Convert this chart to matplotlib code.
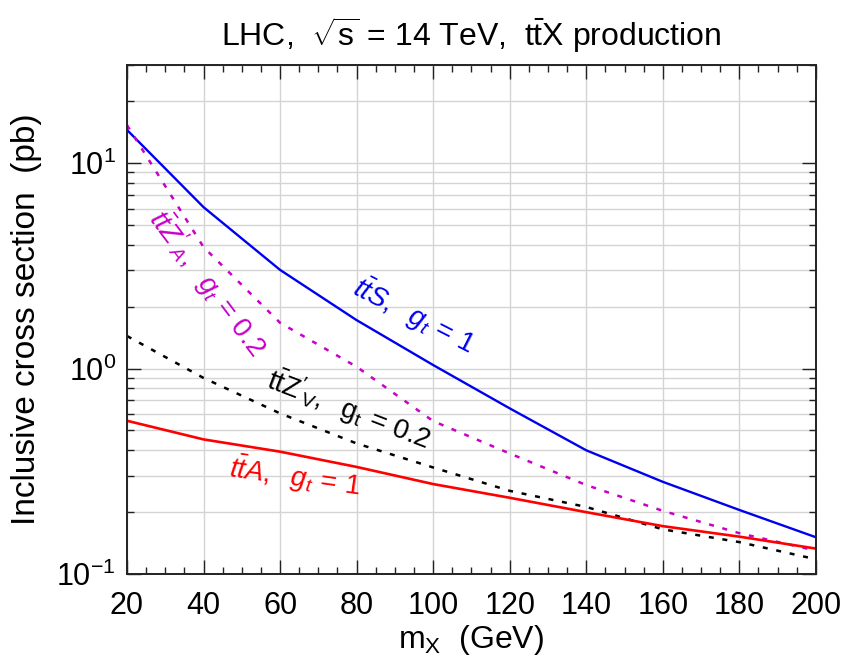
import numpy as np
import matplotlib
matplotlib.use("Agg")
import matplotlib.pyplot as plt
from matplotlib.ticker import LogLocator, MultipleLocator, NullFormatter

plt.rcParams['font.family'] = ['Liberation Sans', 'DejaVu Sans']
plt.rcParams['mathtext.fontset'] = 'custom'
plt.rcParams['mathtext.rm'] = 'Liberation Sans'
plt.rcParams['mathtext.it'] = 'Liberation Sans:italic'
plt.rcParams['mathtext.bf'] = 'Liberation Sans:bold'

# masses (GeV)
m_x = [20, 40, 60, 80, 100, 120, 140, 160, 180, 200]
# cross sections (pb)
xs_ttS = [14.5, 6.1, 3.02, 1.72, 1.04, 0.64, 0.40, 0.281, 0.205, 0.151]
xs_ttZA = [15.3, 3.9, 1.67, 1.02, 0.555, 0.386, 0.271, 0.203, 0.158, 0.130]
xs_ttZV = [1.44, 0.90, 0.605, 0.432, 0.33, 0.254, 0.212, 0.165, 0.143, 0.118]
xs_ttA = [0.557, 0.452, 0.394, 0.332, 0.274, 0.235, 0.200, 0.171, 0.152, 0.133]

fig = plt.figure(figsize=(8.42, 6.62), dpi=100)
ax = fig.add_axes([0.1508, 0.1329, 0.8182, 0.7689])

ax.plot(m_x, xs_ttS, color='#0000f0', lw=1.7)
ax.plot(m_x, xs_ttZA, color='#c800c8', lw=1.8, dashes=(2, 3.5))
ax.plot(m_x, xs_ttZV, color='black', lw=1.8, dashes=(2, 3.5))
ax.plot(m_x, xs_ttA, color='#ff0000', lw=1.9)

ax.set_yscale('log')
ax.set_xlim(20, 200)
ax.set_ylim(0.1, 30)

ax.xaxis.set_major_locator(MultipleLocator(20))
ax.xaxis.set_minor_locator(MultipleLocator(5))
ax.yaxis.set_major_locator(LogLocator(base=10))
ax.yaxis.set_minor_locator(LogLocator(base=10, subs=np.arange(2, 10)))
ax.yaxis.set_minor_formatter(NullFormatter())

ax.grid(True, which='major', axis='x', color='#d4d4d4', lw=1)
ax.grid(True, which='both', axis='y', color='#d4d4d4', lw=1)
ax.set_axisbelow(True)

ax.tick_params(which='both', direction='in', top=True, right=True,
               labelsize=22, color='#222222')
ax.tick_params(axis='x', pad=12)
ax.tick_params(axis='y', pad=8)
ax.tick_params(which='major', length=10, width=1)
ax.tick_params(which='minor', length=5, width=1)
for s in ax.spines.values():
    s.set_linewidth(1.4)
    s.set_color('#222222')

ax.set_xlabel(r'm$_\mathrm{X}$  (GeV)', fontsize=23, labelpad=2)
ax.set_ylabel('Inclusive cross section  (pb)', fontsize=24, labelpad=10)
ax.set_title(r'LHC,  $\sqrt{\mathrm{s}}$ = 14 TeV,  $\mathrm{t\bar{t}}$X production',
             fontsize=23, pad=14)

# curve labels
ax.text(95, 1.8, r'$t\bar{t}S,\ \ g_t\, =\, 1$', color='#0000f0', fontsize=20,
        rotation=-27, ha='center', va='center')
ax.text(41, 2.6, r"$t\bar{t}Z'_A,\ \ g_t\, =\, 0.2$", color='#c800c8', fontsize=20,
        rotation=-53, ha='center', va='center')
ax.text(78, 0.63, r"$\mathrm{t\bar{t}Z'_V,\ \ g_t\, =\, 0.2}$", color='black', fontsize=20,
        rotation=-21, ha='center', va='center')
ax.text(64, 0.295, r'$t\bar{t}A,\ \ g_t\, =\, 1$', color='#ff0000', fontsize=20,
        rotation=-8, ha='center', va='center')

fig.savefig('out.png', dpi=100)
